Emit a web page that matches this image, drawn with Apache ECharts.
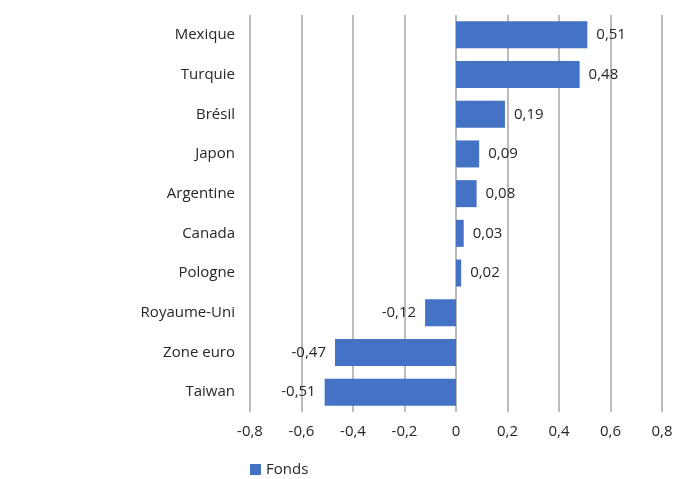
<!DOCTYPE html>
<html>
<head>
<meta charset="utf-8">
<script src="https://cdn.jsdelivr.net/npm/echarts@6/dist/echarts.min.js"></script>
<style>
  html, body { margin: 0; padding: 0; background: #fff; }
  #chart { width: 688px; height: 479px; }
</style>
</head>
<body>
<div id="chart"></div>
<script>
// Contribution par pays (top to bottom)
const countries = ['Mexique', 'Turquie', 'Brésil', 'Japon', 'Argentine', 'Canada', 'Pologne', 'Royaume-Uni', 'Zone euro', 'Taiwan'];
const fondsValues = [0.51, 0.48, 0.19, 0.09, 0.08, 0.03, 0.02, -0.12, -0.47, -0.51];
const xTicks = [-0.8, -0.6, -0.4, -0.2, 0, 0.2, 0.4, 0.6, 0.8];

const fmt = v => String(Math.round(v * 100) / 100).replace('.', ',');
const FONT = 'Open Sans';
const TEXT = '#262626';
const SIZE = 15;

const chart = echarts.init(document.getElementById('chart'));
chart.setOption({
  animation: false,
  textStyle: { fontFamily: FONT },
  grid: { left: 250, right: 26, top: 15, bottom: 67, containLabel: false },
  legend: {
    data: ['Fonds'],
    left: 245,
    top: 457,
    icon: 'rect',
    itemWidth: 11,
    itemHeight: 11,
    itemGap: 9,
    textStyle: { fontFamily: FONT, fontSize: SIZE, color: TEXT }
  },
  xAxis: {
    type: 'value',
    min: xTicks[0],
    max: xTicks[xTicks.length - 1],
    interval: 0.2,
    axisLine: { show: false },
    axisTick: { show: false },
    splitLine: { show: true, lineStyle: { color: '#a6a6a6', width: 1.5 } },
    axisLabel: {
      margin: 12,
      fontSize: SIZE,
      color: TEXT,
      fontFamily: FONT,
      formatter: v => fmt(v)
    }
  },
  yAxis: {
    type: 'category',
    data: countries,
    inverse: true,
    axisLine: { show: false },
    axisTick: { show: false },
    splitLine: { show: false },
    axisLabel: { margin: 15, fontSize: SIZE, color: TEXT, fontFamily: FONT }
  },
  series: [{
    name: 'Fonds',
    type: 'bar',
    data: fondsValues.map(v => ({
      value: v,
      label: { position: v < 0 ? 'left' : 'right' }
    })),
    barWidth: 27,
    itemStyle: { color: '#4472C4' },
    label: {
      show: true,
      distance: 9,
      fontSize: SIZE,
      color: TEXT,
      fontFamily: FONT,
      formatter: p => fmt(p.value)
    }
  }]
});
</script>
</body>
</html>
